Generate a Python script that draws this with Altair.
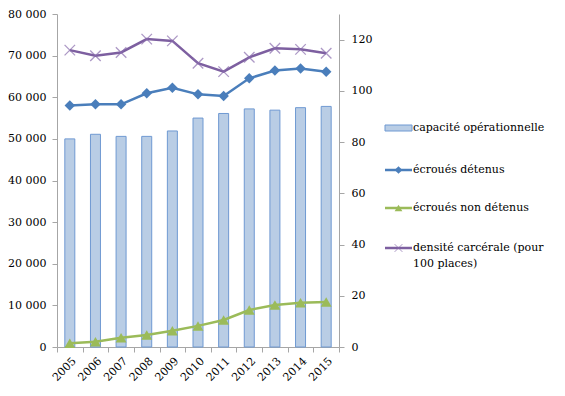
import altair as alt
import pandas as pd

years = ["2005", "2006", "2007", "2008", "2009", "2010", "2011", "2012", "2013", "2014", "2015"]
capacite = [50000, 51100, 50600, 50600, 51900, 55000, 56100, 57200, 56900, 57500, 57800]
detenus = [58000, 58300, 58300, 60950, 62300, 60700, 60300, 64550, 66400, 66900, 66150]
non_detenus = [900, 1270, 2230, 2880, 3920, 5070, 6490, 8890, 10090, 10640, 10810]
densite = [115.9, 113.7, 115.0, 120.2, 119.5, 110.8, 107.5, 113.1, 116.6, 116.2, 114.7]

legend_labels = ["capacité opérationnelle", "écroués détenus", "écroués non détenus",
                 "densité carcérale (pour", "100 places)"]

df = pd.DataFrame({
    "annee": years,
    "capacite": capacite,
    "detenus": detenus,
    "non_detenus": non_detenus,
    "densite": densite,
})

FONT = "DejaVu Serif"
FS = 11
BLUE = "#4A7EBB"
GREEN = "#9BBB59"
PURPLE = "#7D5FA0"
XSHAPE = "M-1,-1L1,1M-1,1L1,-1"

xenc = alt.X("annee:O", title=None,
             scale=alt.Scale(paddingInner=0, paddingOuter=0),
             axis=alt.Axis(labelAngle=-45, tickBand="extent", tickSize=5,
                           labelPadding=3, domainColor="#A6A6A6", tickColor="#A6A6A6"))

left_axis = alt.Axis(values=list(range(0, 80001, 10000)), tickSize=5, labelPadding=6,
                     grid=False,
                     labelExpr="replace(format(datum.value, ',d'), ',', ' ')",
                     domainColor="#A6A6A6", tickColor="#A6A6A6")
left_scale = alt.Scale(domain=[0, 80000], nice=False)

right_axis = alt.Axis(orient="right", values=[0, 20, 40, 60, 80, 100, 120], tickSize=5,
                      labelPadding=7, grid=False, domainColor="#A6A6A6", tickColor="#A6A6A6")
right_scale = alt.Scale(domain=[0, 130], nice=False)

base = alt.Chart(df)

bars = base.mark_bar(size=10, fill="#B9CDE5", stroke="#6F99D2", strokeWidth=1).encode(
    x=xenc,
    y=alt.Y("capacite:Q", title=None, scale=left_scale, axis=left_axis),
)
blue_line = base.mark_line(color=BLUE, strokeWidth=2.5,
                           point=alt.OverlayMarkDef(shape="diamond", size=110, filled=True, color=BLUE)).encode(
    x=xenc,
    y=alt.Y("detenus:Q", scale=left_scale, axis=left_axis),
)
green_line = base.mark_line(color=GREEN, strokeWidth=2.5,
                            point=alt.OverlayMarkDef(shape="triangle-up", size=120, filled=True, color=GREEN)).encode(
    x=xenc,
    y=alt.Y("non_detenus:Q", scale=left_scale, axis=left_axis),
)
left = alt.layer(bars, blue_line, green_line)

right_line = base.mark_line(color=PURPLE, strokeWidth=2.5).encode(
    x=xenc,
    y=alt.Y("densite:Q", title=None, scale=right_scale, axis=right_axis),
)
right_pts = base.mark_point(shape=XSHAPE, size=110, filled=False, color="#8A6DAE", strokeWidth=1.3).encode(
    x=xenc,
    y=alt.Y("densite:Q", title=None, scale=right_scale, axis=right_axis),
)
right = alt.layer(right_line, right_pts)

one = alt.Chart(pd.DataFrame({"a": [0]}))
lx0, lx1, tx = 328, 355, 356
leg = [
    one.mark_rect(fill="#B9CDE5", stroke="#6F99D2", strokeWidth=1).encode(
        x=alt.value(lx0), x2=alt.value(lx1), y=alt.value(111), y2=alt.value(117)),
    one.mark_rule(color=BLUE, strokeWidth=2.5).encode(
        x=alt.value(lx0), x2=alt.value(lx1), y=alt.value(156)),
    one.mark_point(shape="diamond", size=60, filled=True, color=BLUE, opacity=1).encode(
        x=alt.value((lx0 + lx1) / 2), y=alt.value(156)),
    one.mark_rule(color=GREEN, strokeWidth=2.5).encode(
        x=alt.value(lx0), x2=alt.value(lx1), y=alt.value(194)),
    one.mark_point(shape="triangle-up", size=60, filled=True, color=GREEN, opacity=1).encode(
        x=alt.value((lx0 + lx1) / 2), y=alt.value(194)),
    one.mark_rule(color=PURPLE, strokeWidth=2.5).encode(
        x=alt.value(lx0), x2=alt.value(lx1), y=alt.value(234)),
    one.mark_point(shape=XSHAPE, size=60, filled=False, color="#8A6DAE", strokeWidth=1).encode(
        x=alt.value((lx0 + lx1) / 2), y=alt.value(234)),
]
for lab, yy in zip(legend_labels, [114, 156, 194, 234, 250]):
    leg.append(one.mark_text(align="left", baseline="middle", font=FONT, fontSize=FS, color="#000").encode(
        x=alt.value(tx), y=alt.value(yy), text=alt.value(lab)))

chart = alt.layer(left, right, *leg).resolve_scale(y="independent").properties(
    width=282, height=333,
    autosize=alt.AutoSizeParams(type="none"),
    padding={"left": 49, "top": 6, "right": 218, "bottom": 40},
).configure_view(stroke=None).configure_axis(
    labelFont=FONT, labelFontSize=FS, labelColor="#000", grid=False,
).configure_text(font=FONT)

chart.save("out.html", embed_options={"renderer": "svg", "actions": False})
